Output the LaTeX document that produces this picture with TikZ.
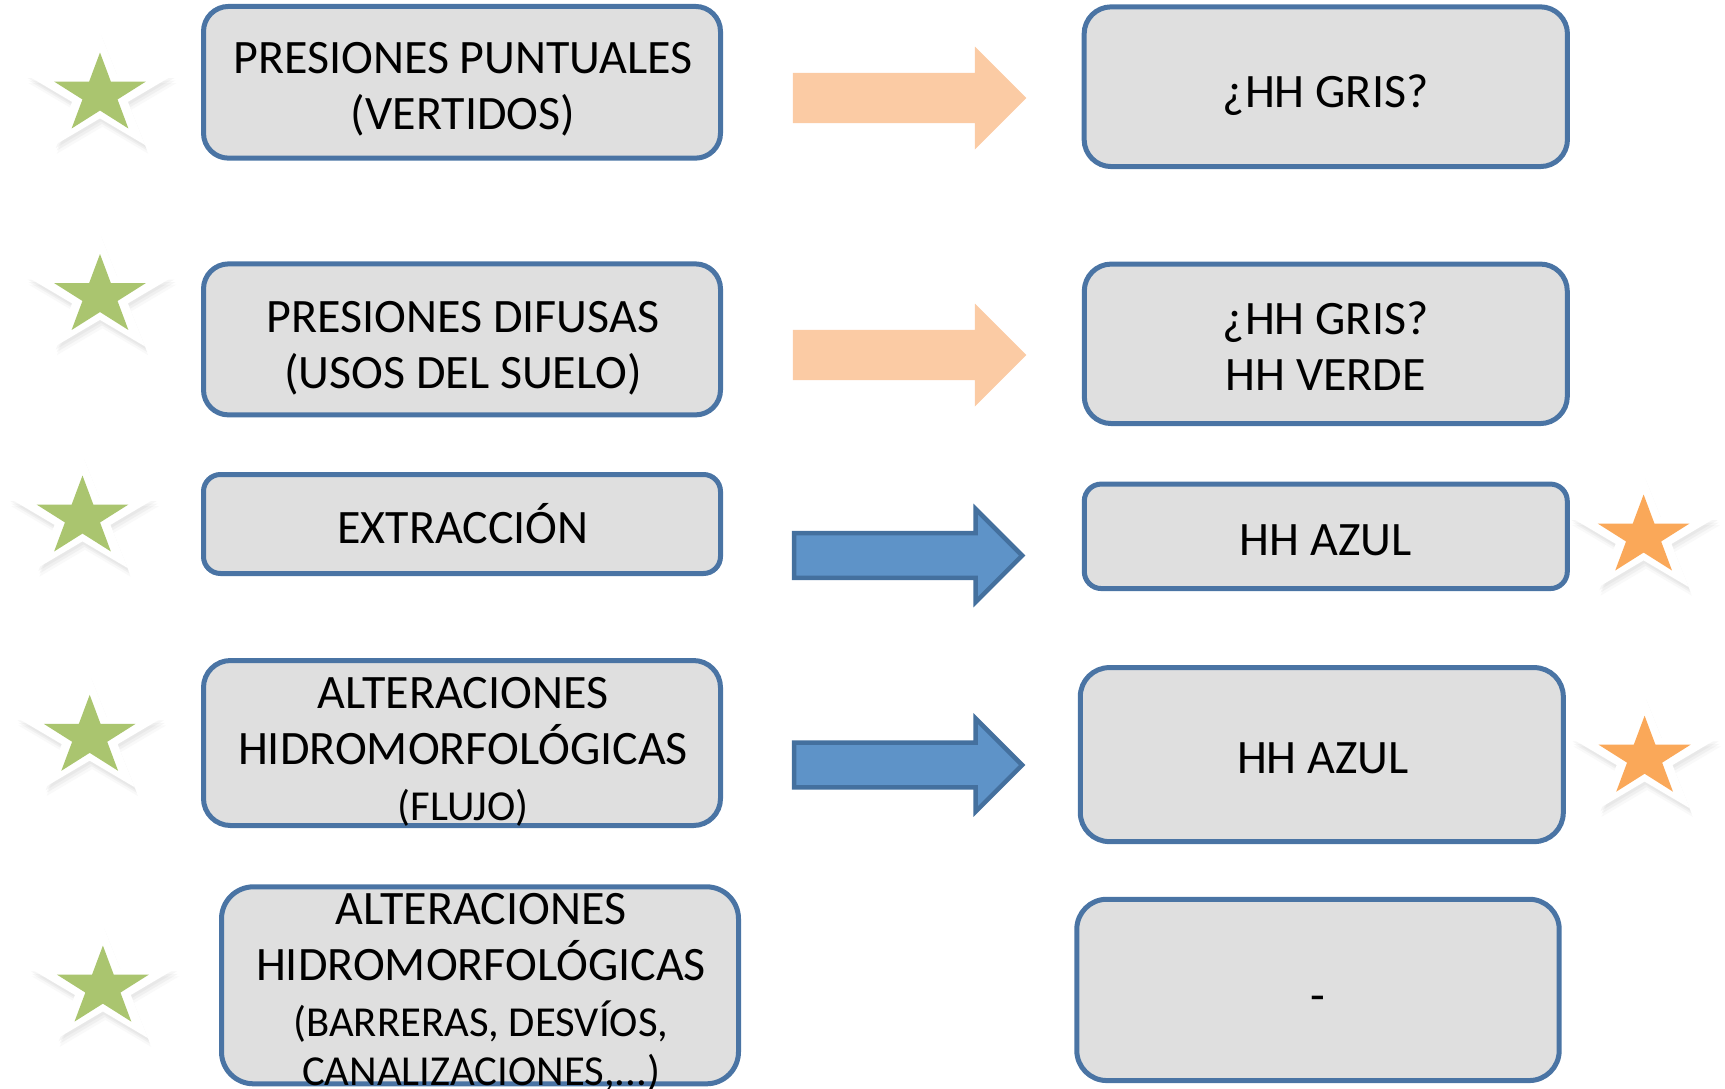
\documentclass[tikz,border=0pt]{standalone}
\usepackage{fontspec}
\setmainfont{Carlito}
\usetikzlibrary{shapes.geometric,shapes.arrows,shadows}
\definecolor{boxfill}{HTML}{DFDFDF}
\definecolor{boxline}{HTML}{4A74A4}
\definecolor{orangearrow}{HTML}{FBCBA4}
\definecolor{bluefill}{HTML}{5E93C8}
\definecolor{blueline}{HTML}{44709E}
\definecolor{stargreen}{HTML}{AAC56F}
\definecolor{starorange}{HTML}{FAA859}
\newcommand\smalltxt{\fontsize{42.7}{56}\selectfont}
\tikzset{
  box/.style={draw=boxline, fill=boxfill, line width=5pt, inner sep=0pt},
  txt/.style={font=\fontsize{48}{56}\selectfont, align=center, inner sep=0pt, text=black},
  orarrow/.style={single arrow, fill=orangearrow, draw=none, inner xsep=0pt, inner ysep=25pt,
    single arrow head extend=26.3pt, single arrow tip angle=90, single arrow head indent=0pt,
    minimum height=233.4pt, minimum width=102.6pt},
  blarrow/.style={single arrow, fill=bluefill, draw=blueline, line width=4.5pt, inner xsep=0pt, inner ysep=19.5pt,
    single arrow head extend=23.5pt, single arrow tip angle=90, single arrow head indent=0pt,
    minimum height=228pt, minimum width=93pt},
  starhalo/.style={star, star points=5, star point ratio=2.618, inner sep=0pt,
    minimum size=125pt, xscale=1.23, fill=white,
    drop shadow={opacity=0.07, shadow xshift=1pt, shadow yshift=-3pt},
    drop shadow={opacity=0.07, shadow xshift=2pt, shadow yshift=-5.5pt},
    drop shadow={opacity=0.05, shadow xshift=2.5pt, shadow yshift=-8pt, shadow scale=1.01}},
  starcore/.style={star, star points=5, star point ratio=2.618, inner sep=0pt,
    minimum size=84pt, xscale=1.15, fill=#1},
}
\begin{document}
\begin{tikzpicture}[x=1pt,y=-1pt]
\useasboundingbox (0,0) rectangle (1725,1088);

% left boxes
\node[box, minimum width=517pt, minimum height=151.7pt, rounded corners=25pt] (b1) at (462,82.3) {};
\node[box, minimum width=517pt, minimum height=151pt, rounded corners=25pt] (b2) at (462,339.4) {};
\node[box, minimum width=517pt, minimum height=99pt, rounded corners=17pt] (b3) at (462,524) {};
\node[box, minimum width=517pt, minimum height=165pt, rounded corners=27pt] (b4) at (462,743) {};
\node[box, minimum width=517pt, minimum height=197pt, rounded corners=32pt] (b5) at (480,985.3) {};

% right boxes
\node[box, minimum width=483.3pt, minimum height=159.7pt, rounded corners=27pt] (r1) at (1325.8,86.7) {};
\node[box, minimum width=483pt, minimum height=159.5pt, rounded corners=27pt] (r2) at (1325.8,343.8) {};
\node[box, minimum width=483pt, minimum height=104.5pt, rounded corners=17pt] (r3) at (1325.8,536.3) {};
\node[box, minimum width=483pt, minimum height=174pt, rounded corners=29pt] (r4) at (1321.8,754.6) {};
\node[box, minimum width=482.4pt, minimum height=181.3pt, rounded corners=30pt] (r5) at (1318,989.9) {};

% texts
\node[txt] (b1t) at (463,89.3) {PRESIONES PUNTUALES\\(VERTIDOS)};
\node[txt] (b2t) at (463,347.8) {PRESIONES DIFUSAS\\(USOS DEL SUELO)};
\node[txt] (b3t) at (463,524) {EXTRACCIÓN};
\node[txt] (b4t) at (463,751.5) {ALTERACIONES\\HIDROMORFOLÓGICAS\\{\smalltxt (FLUJO)}};
\node[txt] (b5t) at (481,992) {ALTERACIONES\\HIDROMORFOLÓGICAS\\{\smalltxt (BARRERAS, DESVÍOS,}\\[-7pt]{\smalltxt CANALIZACIONES,...)}};
\node[txt] (r1t) at (1325.6,94.7) {¿HH GRIS?};
\node[txt] (r2t) at (1325.6,346.5) {¿HH GRIS?\\HH VERDE};
\node[txt] (r3t) at (1325.6,540.5) {HH AZUL};
\node[txt] (r4t) at (1323,758.5) {HH AZUL};
\node[txt] (r5t) at (1318,1003.5) {-};

% arrows
\node[orarrow] (a1) at (897,98) {};
\node[orarrow] (a2) at (897,355) {};
\node[blarrow] (a3) at (897,555.5) {};
\node[blarrow] (a4) at (897,765) {};

% stars
\node[starhalo] (s1h) at (100,94.5) {};
\node[starcore=stargreen] (s1) at (100,94.5) {};
\node[starhalo] (s2h) at (100,296) {};
\node[starcore=stargreen] (s2) at (100,296) {};
\node[starhalo] (s3h) at (82.5,517.5) {};
\node[starcore=stargreen] (s3) at (82.5,517.5) {};
\node[starhalo] (s4h) at (89.7,736.8) {};
\node[starcore=stargreen] (s4) at (89.7,736.8) {};
\node[starhalo] (s5h) at (102.9,987.6) {};
\node[starcore=stargreen] (s5) at (102.9,987.6) {};
\node[starhalo] (s6h) at (1643.6,536.5) {};
\node[starcore=starorange] (s6) at (1643.6,536.5) {};
\node[starhalo] (s7h) at (1644.6,757.7) {};
\node[starcore=starorange] (s7) at (1644.6,757.7) {};
\end{tikzpicture}
\end{document}
